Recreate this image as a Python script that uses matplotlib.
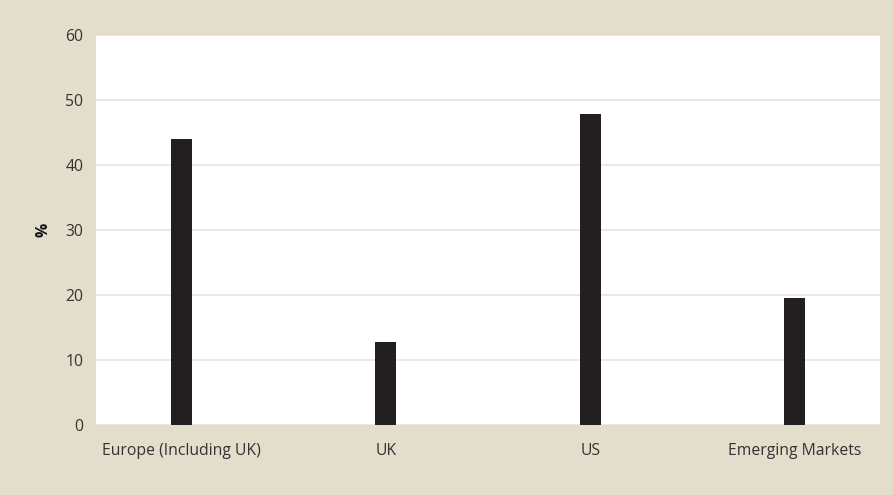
import matplotlib.pyplot as plt
import numpy as np

# Regional share values (%)
categories = ['Europe (Including UK)', 'UK', 'US', 'Emerging Markets']
values = [44.0, 12.8, 47.9, 19.6]
y_ticks = [0, 10, 20, 30, 40, 50, 60]

BG = '#e3ddcc'
GRID = '#e9e4d6'
BAR = '#231f20'
TEXT = '#333333'

plt.rcParams['font.family'] = ['Open Sans', 'DejaVu Sans']

fig = plt.figure(figsize=(8.93, 4.95), dpi=100, facecolor=BG)
ax = fig.add_axes([96 / 893, 1 - 425 / 495, 784 / 893, 390 / 495])
ax.set_facecolor('white')

x = np.arange(len(categories))
ax.bar(x, values, width=0.103, color=BAR, zorder=3)

ax.set_xlim(-0.418, len(categories) - 1 + 0.418)
ax.set_ylim(0, 60)
ax.set_yticks(y_ticks)
ax.set_xticks(x)
ax.set_xticklabels(categories)

ax.grid(axis='y', color=GRID, linewidth=1.2, zorder=1)
ax.set_axisbelow(True)
for s in ax.spines.values():
    s.set_visible(False)

ax.tick_params(axis='both', length=0, labelsize=11.3, colors=TEXT)
ax.tick_params(axis='x', pad=13)
ax.tick_params(axis='y', pad=9)

ax.set_ylabel('%', fontsize=11.3, fontweight='bold', color='#111111', labelpad=10)

fig.savefig('out.png', dpi=100, facecolor=BG)
